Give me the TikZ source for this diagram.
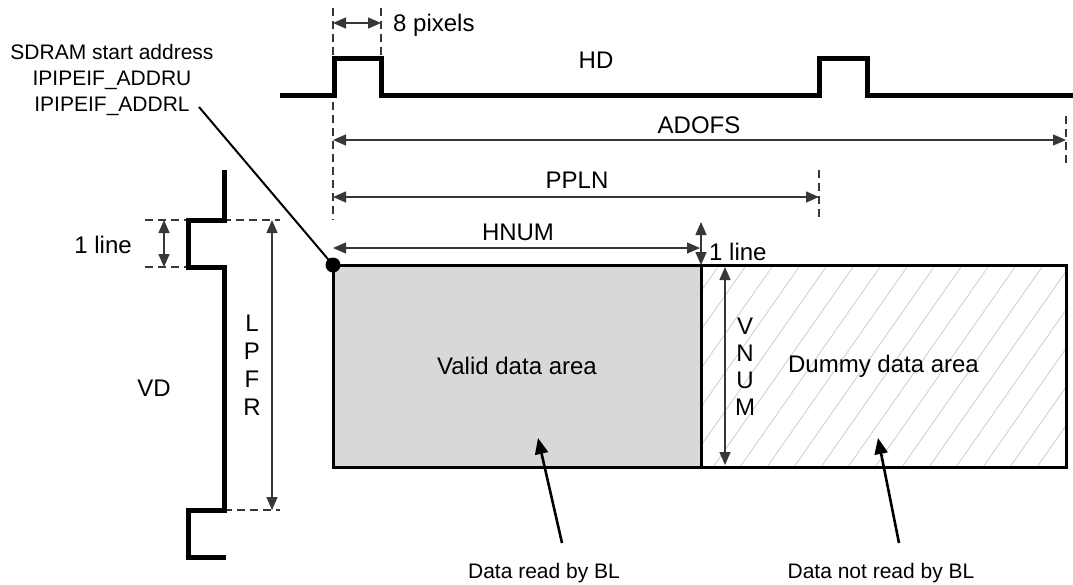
\documentclass[tikz,border=0pt]{standalone}
\usepackage{fontspec}
\setmainfont{Liberation Sans}
\usetikzlibrary{arrows.meta,calc}
\definecolor{validgray}{RGB}{216,216,216}
\definecolor{hatchgray}{RGB}{205,205,205}
\definecolor{dimgray}{RGB}{55,55,55}
\tikzset{
  signal/.style={line width=5pt, line join=miter},
  extline/.style={dimgray, line width=1.2pt, dash pattern=on 8pt off 5pt},
  dimline/.style={{Triangle[length=13pt,width=11pt]}-{Triangle[length=13pt,width=11pt]},
                  line width=1.4pt, dimgray},
  pointer/.style={-{Triangle[length=16pt,width=13pt]}, line width=2.6pt},
  leader/.style={line width=2pt},
  lab/.style={font=\fontsize{24}{28}\selectfont, inner sep=0pt},
  smalllab/.style={font=\fontsize{21}{26}\selectfont, inner sep=0pt, align=center},
  stacked/.style={lab, align=center},
  areabox/.style={draw, line width=3pt, minimum height=202pt, inner sep=0pt,
                  font=\fontsize{24}{28}\selectfont},
  hatched/.style={path picture={
      \foreach \k in {0,...,22}
        \draw[hatchgray, line width=0.8pt]
          ($(path picture bounding box.south west)+(\k*27-150,0)$) -- ++(210,-300);
    }},
}

\begin{document}
\begin{tikzpicture}[x=1pt,y=-1pt]
  \useasboundingbox (0,0) rectangle (1073,584);

  % data areas
  \node[areabox, fill=validgray, minimum width=368pt] (valid) at (517,366) {Valid data area};
  \node[areabox, hatched, minimum width=365pt] (dummy) at (883.5,366) {Dummy data area};
  \node[circle, fill, inner sep=0pt, minimum size=15pt] (startdot) at (333,265) {};

  % HD signal
  \draw[signal] (280,95) -- (334,95) -- (334,58) -- (381,58) -- (381,95)
    -- (819,95) -- (819,58) -- (867,58) -- (867,95) -- (1073,95);
  \node[lab] (hd) at (596,60) {HD};

  % VD signal
  \draw[extline] (145,220) -- (280,220);
  \draw[extline] (145,267) -- (188,267);
  \draw[extline] (224,510) -- (280,510);
  \draw[signal] (224,170) -- (224,220) -- (188,220) -- (188,267) -- (224,267)
    -- (224,510) -- (188,510) -- (188,557) -- (226,557);
  \node[lab] (vd) at (154,388) {VD};

  % extension lines
  \coordinate (px1) at (333,8);
  \coordinate (px2) at (381,8);
  \draw[extline] (px1) -- (333,55);
  \draw[extline] (px2) -- (381,55);
  \draw[extline] (333,102) -- (333,220);
  \draw[extline] (1066,116) -- (1066,164);
  \draw[extline] (819,170) -- (819,220);

  % dimensions
  \coordinate (pxa) at (333,23);
  \coordinate (pxb) at (381,23);
  \draw[dimline] (pxa) -- (pxb);
  \node[lab, anchor=west] (pixels) at (393,25) {8 pixels};

  \coordinate (adofsl) at (333,140);
  \coordinate (adofsr) at (1066,140);
  \draw[dimline] (adofsl) -- (adofsr);
  \node[lab] (adofs) at (699,125) {ADOFS};

  \coordinate (pplnl) at (333,197);
  \coordinate (pplnr) at (819,197);
  \draw[dimline] (pplnl) -- (pplnr);
  \node[lab] (ppln) at (577,180) {PPLN};

  \coordinate (hnuml) at (333,248);
  \coordinate (hnumr) at (700,248);
  \draw[dimline] (hnuml) -- (hnumr);
  \node[lab] (hnum) at (518,232) {HNUM};

  \coordinate (linet) at (701,222);
  \coordinate (lineb) at (701,265);
  \draw[dimline] (linet) -- (lineb);
  \node[lab, anchor=west] (lineright) at (709,252) {1 line};

  \coordinate (vdlinet) at (164,220);
  \coordinate (vdlineb) at (164,267);
  \draw[dimline] (vdlinet) -- (vdlineb);
  \node[lab, anchor=east] (lineleft) at (132,245) {1 line};

  \coordinate (lpfrt) at (272,220);
  \coordinate (lpfrb) at (272,510);
  \draw[dimline] (lpfrt) -- (lpfrb);
  \node[stacked] (lpfr) at (252,365) {L\\P\\F\\R};

  \coordinate (vnumt) at (725,267);
  \coordinate (vnumb) at (725,465);
  \draw[dimline] (vnumt) -- (vnumb);
  \node[stacked, font=\fontsize{24}{27}\selectfont] (vnum) at (745,367) {V\\N\\U\\M};

  % start address
  \node[smalllab] (sdram) at (112,80)
    {SDRAM start address\\IPIPEIF\_ADDRU\\IPIPEIF\_ADDRL};
  \coordinate (leadfrom) at (199,107);
  \draw[leader] (leadfrom) -- (startdot.center);

  % read / not read
  \node[smalllab] (readbl) at (544,573) {Data read by BL};
  \node[smalllab] (notreadbl) at (881,573) {Data not read by BL};
  \coordinate (readtail) at (562,543);
  \coordinate (readtip) at (538,438);
  \coordinate (notreadtail) at (899,543);
  \coordinate (notreadtip) at (878,438);
  \draw[pointer] (readtail) -- (readtip);
  \draw[pointer] (notreadtail) -- (notreadtip);
\end{tikzpicture}
\end{document}
